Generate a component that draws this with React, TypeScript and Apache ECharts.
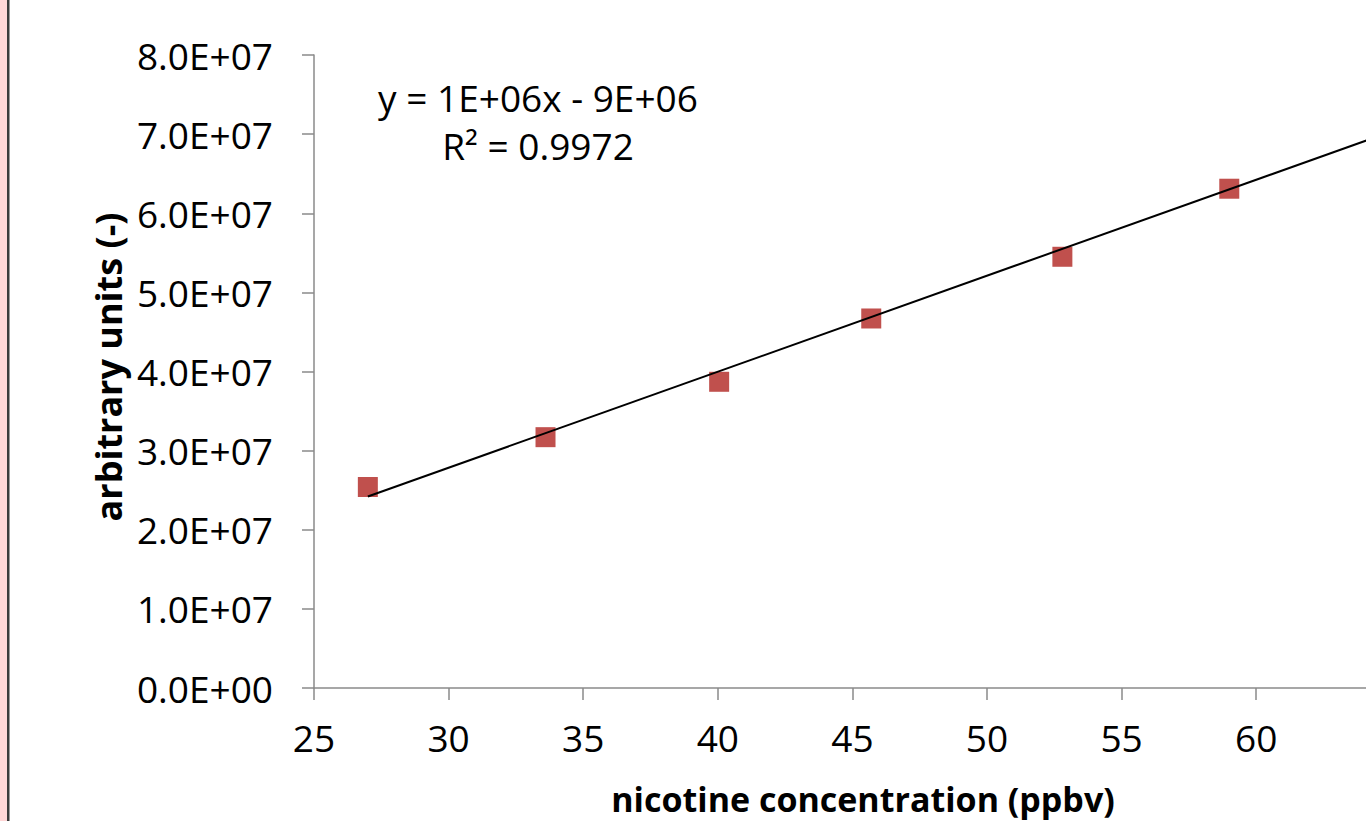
import React, { useEffect, useRef } from "react";
import * as echarts from "echarts";

// Data
const concentrations = [27.0, 33.6, 40.05, 45.7, 52.8, 59.0];
const signals = [2.54e7, 3.17e7, 3.87e7, 4.67e7, 5.45e7, 6.31e7];
// Linear trendline endpoints (as drawn in the reference)
const trendX = [27.0, 65];
const trendY = [2.42e7, 7.03e7];
const xTicks = { min: 25, max: 65, interval: 5 };
const yTicks = { min: 0, max: 8e7, interval: 1e7 };
const equationLines = ["y = 1E+06x - 9E+06", "R² = 0.9972"];
const xTitle = "nicotine concentration (ppbv)";
const yTitle = "arbitrary units (-)";

const FONT = "'Open Sans', 'Noto Sans', sans-serif";

function fmtY(v: number): string {
  if (v === 0) return "0.0E+00";
  const exp = Math.floor(Math.log10(Math.abs(v)));
  const mant = v / Math.pow(10, exp);
  return mant.toFixed(1) + "E+" + String(exp).padStart(2, "0");
}

export default function App() {
  const ref = useRef<HTMLDivElement>(null);
  useEffect(() => {
    document.body.style.margin = "0";
    if (!ref.current) return;
    const chart = echarts.init(ref.current, undefined, { renderer: "svg" });
    const axisColor = "#8a8a8a";
    chart.setOption({
      animation: false,
      backgroundColor: "#ffffff",
      grid: {
        left: 314,
        top: 55,
        width: 1076.8,
        height: 633,
        containLabel: false,
        outerBoundsMode: "none",
      },
      xAxis: {
        type: "value",
        min: xTicks.min,
        max: xTicks.max,
        interval: xTicks.interval,
        splitLine: { show: false },
        axisLine: { onZero: false, lineStyle: { color: axisColor, width: 1.5 } },
        axisTick: { show: true, inside: false, length: 12, lineStyle: { color: axisColor, width: 1.5 } },
        axisLabel: { color: "#000", fontFamily: FONT, fontSize: 37, margin: 31, showMaxLabel: false },
      },
      yAxis: {
        type: "value",
        min: yTicks.min,
        max: yTicks.max,
        interval: yTicks.interval,
        splitLine: { show: false },
        axisLine: { show: true, onZero: false, lineStyle: { color: axisColor, width: 1.5 } },
        axisTick: { show: true, inside: false, length: 12, lineStyle: { color: axisColor, width: 1.5 } },
        axisLabel: { color: "#000", fontFamily: FONT, fontSize: 37, margin: 41, formatter: fmtY },
      },
      series: [
        {
          type: "scatter",
          data: concentrations.map((x, i) => [x, signals[i]]),
          symbol: "rect",
          symbolSize: 20,
          itemStyle: { color: "#C0504D", opacity: 1 },
          z: 2,
        },
        {
          type: "line",
          data: trendX.map((x, i) => [x, trendY[i]]),
          showSymbol: false,
          symbol: "none",
          lineStyle: { color: "#000", width: 2 },
          z: 3,
        },
      ],
      graphic: [
        { type: "rect", left: 0, top: 0, shape: { width: 7, height: 900 }, style: { fill: "#FFD6D6" } },
        { type: "rect", left: 7, top: 0, shape: { width: 2, height: 900 }, style: { fill: "#3a3a3a" } },
        { type: "rect", left: 9, top: 0, shape: { width: 1, height: 900 }, style: { fill: "#9a9a9a" } },
        {
          type: "text",
          x: 538,
          y: 97,
          style: { text: equationLines[0], fill: "#000", font: `37px ${FONT}`, textAlign: "center", textVerticalAlign: "middle" },
        },
        {
          type: "text",
          x: 538,
          y: 145,
          style: { text: equationLines[1], fill: "#000", font: `37px ${FONT}`, textAlign: "center", textVerticalAlign: "middle" },
        },
        {
          type: "text",
          x: 863,
          y: 799,
          style: { text: xTitle, fill: "#000", font: `bold 34px ${FONT}`, textAlign: "center", textVerticalAlign: "middle" },
        },
        {
          type: "text",
          x: 108,
          y: 367,
          rotation: Math.PI / 2,
          style: { text: yTitle, fill: "#000", font: `bold 36px ${FONT}`, textAlign: "center", textVerticalAlign: "middle" },
        },
      ],
    });
    return () => chart.dispose();
  }, []);
  return (
    <div style={{ position: "fixed", left: 0, top: 0, width: 1366, height: 821, overflow: "hidden", background: "#fff" }}>
      <div ref={ref} style={{ width: 1500, height: 900 }} />
    </div>
  );
}
